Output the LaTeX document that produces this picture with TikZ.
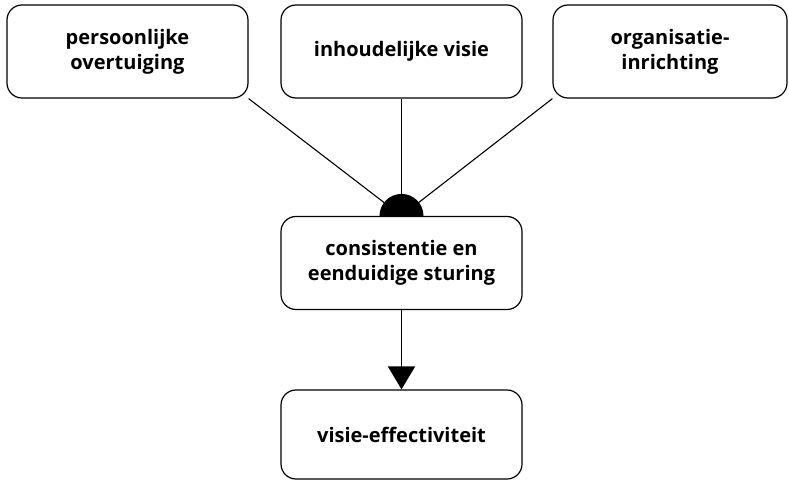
\documentclass[tikz,border=0pt]{standalone}
\usepackage{fontspec}
\setmainfont{Open Sans}
\usepackage{tikz}
\usetikzlibrary{arrows.meta, positioning, calc}

\begin{document}
\begin{tikzpicture}[x=1pt, y=-1pt,
		box/.style={draw, line width=1.2pt, rounded corners=15pt, fill=white,
			minimum width=241pt, minimum height=93pt, align=center,
			font=\fontsize{20}{25}\selectfont\bfseries},
		link/.style={line width=1.1pt}]
	\useasboundingbox (0,0) rectangle (789,481);
	\node[box] (persoon) at (127.5,51.5) {persoonlijke\\overtuiging};
	\node[box] (inhoud) at (401.5,51.5) {inhoudelijke visie};
	\node[box, minimum width=234pt] (organ) at (670,51.5) {organisatie-\\inrichting};
	\node[box] (sturing) at (401.5,263) {consistentie en\\eenduidige sturing};
	\node[box, minimum height=89pt] (effect) at (401.5,434.5) {visie-effectiviteit};
	\coordinate (hub) at (sturing.north);
	\draw[link] (persoon.south east) -- (hub);
	\draw[link] (inhoud.south) -- (hub);
	\draw[link] (organ.south west) -- (hub);
	\fill ([xshift=-22pt]hub) arc[start angle=180, end angle=0, radius=22pt] -- cycle;
	\draw[line width=1.6pt, -{Triangle[length=23pt, width=27pt]}] (sturing.south) -- (effect.north);
\end{tikzpicture}
\end{document}
